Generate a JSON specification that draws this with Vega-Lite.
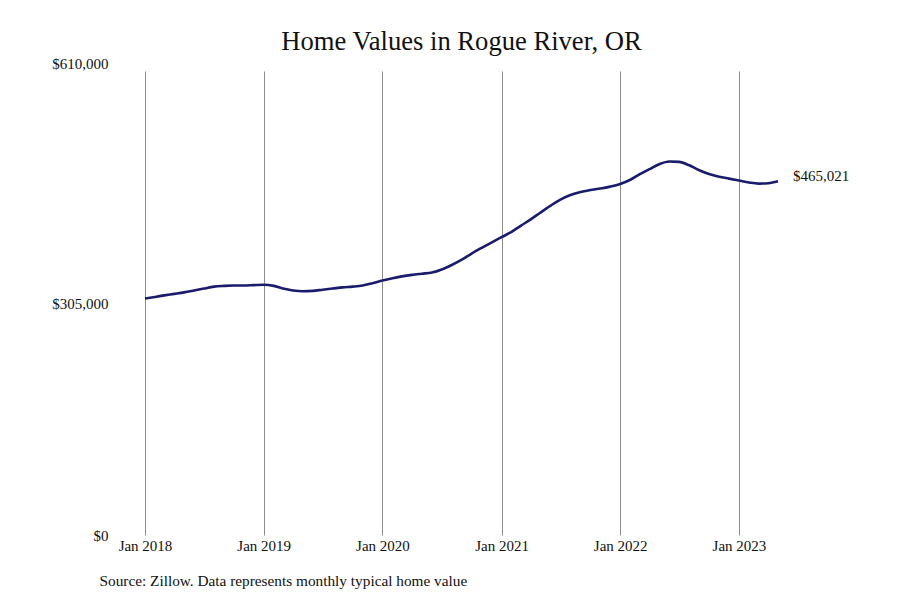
{
  "$schema": "https://vega.github.io/schema/vega-lite/v6.json",
  "autosize": "none",
  "width": 633,
  "height": 464,
  "padding": {"left": 145, "top": 71, "right": 122, "bottom": 65},
  "background": "white",
  "title": {
    "text": "Home Values in Rogue River, OR",
    "font": "Liberation Serif",
    "fontSize": 26.6,
    "fontWeight": "normal",
    "color": "#111111",
    "anchor": "middle",
    "offset": 0
  },
  "config": {
    "view": {"stroke": null},
    "font": "Liberation Serif"
  },
  "data": {
    "values": [
      {"date": "2018-01-01", "value": 311000},
      {"date": "2018-02-01", "value": 313000},
      {"date": "2018-03-01", "value": 315000},
      {"date": "2018-04-01", "value": 317000},
      {"date": "2018-05-01", "value": 319000},
      {"date": "2018-06-01", "value": 321500},
      {"date": "2018-07-01", "value": 324000},
      {"date": "2018-08-01", "value": 326500},
      {"date": "2018-09-01", "value": 327500},
      {"date": "2018-10-01", "value": 328000},
      {"date": "2018-11-01", "value": 328000},
      {"date": "2018-12-01", "value": 328500},
      {"date": "2019-01-01", "value": 329000},
      {"date": "2019-02-01", "value": 327500},
      {"date": "2019-03-01", "value": 324000},
      {"date": "2019-04-01", "value": 321500},
      {"date": "2019-05-01", "value": 320500},
      {"date": "2019-06-01", "value": 321000},
      {"date": "2019-07-01", "value": 322500},
      {"date": "2019-08-01", "value": 324000},
      {"date": "2019-09-01", "value": 325500},
      {"date": "2019-10-01", "value": 326500},
      {"date": "2019-11-01", "value": 328000},
      {"date": "2019-12-01", "value": 331000},
      {"date": "2020-01-01", "value": 334500},
      {"date": "2020-02-01", "value": 337500},
      {"date": "2020-03-01", "value": 340000},
      {"date": "2020-04-01", "value": 342000},
      {"date": "2020-05-01", "value": 343500},
      {"date": "2020-06-01", "value": 345000},
      {"date": "2020-07-01", "value": 349000},
      {"date": "2020-08-01", "value": 355000},
      {"date": "2020-09-01", "value": 362000},
      {"date": "2020-10-01", "value": 370000},
      {"date": "2020-11-01", "value": 377500},
      {"date": "2020-12-01", "value": 384500},
      {"date": "2021-01-01", "value": 391500},
      {"date": "2021-02-01", "value": 398500},
      {"date": "2021-03-01", "value": 406500},
      {"date": "2021-04-01", "value": 415000},
      {"date": "2021-05-01", "value": 424000},
      {"date": "2021-06-01", "value": 433000},
      {"date": "2021-07-01", "value": 441000},
      {"date": "2021-08-01", "value": 447000},
      {"date": "2021-09-01", "value": 451000},
      {"date": "2021-10-01", "value": 453500},
      {"date": "2021-11-01", "value": 455500},
      {"date": "2021-12-01", "value": 458000},
      {"date": "2022-01-01", "value": 461500},
      {"date": "2022-02-01", "value": 467000},
      {"date": "2022-03-01", "value": 474000},
      {"date": "2022-04-01", "value": 481000},
      {"date": "2022-05-01", "value": 487500},
      {"date": "2022-06-01", "value": 491000},
      {"date": "2022-07-01", "value": 490500},
      {"date": "2022-08-01", "value": 486000},
      {"date": "2022-09-01", "value": 479500},
      {"date": "2022-10-01", "value": 474500},
      {"date": "2022-11-01", "value": 471000},
      {"date": "2022-12-01", "value": 468500},
      {"date": "2023-01-01", "value": 466000},
      {"date": "2023-02-01", "value": 463500},
      {"date": "2023-03-01", "value": 462000},
      {"date": "2023-04-01", "value": 462500},
      {"date": "2023-05-01", "value": 465021}
    ]
  },
  "encoding": {
    "x": {
      "field": "date",
      "type": "temporal",
      "scale": {"domain": [{"year": 2018, "month": 1, "date": 1}, {"year": 2023, "month": 5, "date": 1}]},
      "axis": {
        "values": [
          {"year": 2018, "month": 1, "date": 1},
          {"year": 2019, "month": 1, "date": 1},
          {"year": 2020, "month": 1, "date": 1},
          {"year": 2021, "month": 1, "date": 1},
          {"year": 2022, "month": 1, "date": 1},
          {"year": 2023, "month": 1, "date": 1}
        ],
        "format": "%b %Y",
        "grid": true,
        "gridColor": "#8c8c8c",
        "gridWidth": 1,
        "domain": false,
        "ticks": false,
        "labelFlush": false,
        "labelFont": "Liberation Serif",
        "labelFontSize": 15,
        "labelColor": "#111111",
        "labelPadding": 3,
        "title": "Source: Zillow. Data represents monthly typical home value",
        "titleFont": "Liberation Serif",
        "titleFontSize": 15.3,
        "titleFontWeight": "normal",
        "titleColor": "#111111",
        "titleAnchor": "start",
        "titleAlign": "left",
        "titleBaseline": "middle",
        "titleX": -46,
        "titleY": 45
      }
    },
    "y": {
      "field": "value",
      "type": "quantitative",
      "scale": {"domain": [0, 610000], "nice": false},
      "axis": {
        "values": [0, 305000, 610000],
        "format": "$,d",
        "grid": false,
        "domain": false,
        "ticks": false,
        "labelFont": "Liberation Serif",
        "labelFontSize": 15,
        "labelColor": "#111111",
        "labelPadding": 37,
        "labelBaseline": {"condition": {"test": "datum.value >= 610000", "value": "bottom"}, "value": "middle"},
        "title": null
      }
    }
  },
  "layer": [
    {
      "mark": {"type": "line", "interpolate": "monotone", "color": "#1b1b6b", "strokeWidth": 2.6}
    },
    {
      "transform": [{"filter": "datum.value == 465021"}],
      "mark": {"type": "text", "align": "left", "baseline": "middle", "dx": 15, "dy": -5, "font": "Liberation Serif", "fontSize": 15, "color": "#111111"},
      "encoding": {
        "text": {"field": "value", "type": "quantitative", "format": "$,d"}
      }
    }
  ]
}
